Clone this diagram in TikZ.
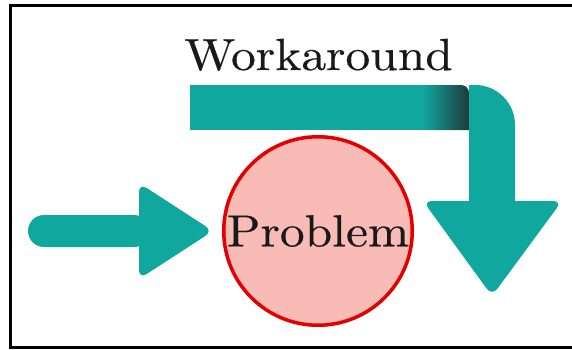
\documentclass[tikz,border=0pt]{standalone}
\usepackage{graphicx}
\usepackage{fontspec}
\newfontfamily\lmten{lmroman10-regular.otf}[FakeBold=0.4]
\definecolor{tealc}{RGB}{16,167,158}
\definecolor{darkc}{RGB}{30,58,58}
\definecolor{pinkc}{RGB}{248,187,181}
\definecolor{redc}{RGB}{228,0,0}
\tikzset{
  arrowshape/.style={fill=tealc, draw=none},
  bigtext/.style={font=\lmten\fontsize{45}{54}\selectfont, inner sep=0pt, text=black!90},
  framestyle/.style={line width=3pt, draw=black},
}
\begin{document}
\begin{tikzpicture}[x=1pt,y=1pt]
\useasboundingbox (0,0) rectangle (572,349);
% frame (top, left, bottom)
\draw[framestyle] (572,343) -- (10,343) -- (10,2) -- (572,2);
% left arrow
\fill[arrowshape, rounded corners=16] (28,102) rectangle (150,134);
\fill[arrowshape, rounded corners=9] (139,166) -- (213,118) -- (139,70) -- cycle;
% top bar
\fill[arrowshape] (190,219) rectangle (424,264);
\shade[left color=tealc, right color=darkc] (423,219) -- (423,264) -- (461,264) arc[start angle=90, end angle=0, radius=8] -- (469,219) -- cycle;
% bend and vertical shaft
\fill[arrowshape] (469,264) -- (475,264) arc[start angle=90, end angle=0, radius=40] -- (515,140) -- (469,140) -- cycle;
\fill[arrowshape, rounded corners=9] (423,148) -- (562,148) -- (492,53) -- cycle;
% circle
\node[circle, draw=redc, line width=3.5pt, fill=pinkc, minimum size=188.5pt, inner sep=0pt, bigtext] (problem) at (318,118) {\scalebox{1.1}[1]{Problem}};
% label
\node[bigtext, anchor=base] (workaround) at (318.5,279) {\scalebox{1.1}[1]{Workaround}};
\end{tikzpicture}
\end{document}
